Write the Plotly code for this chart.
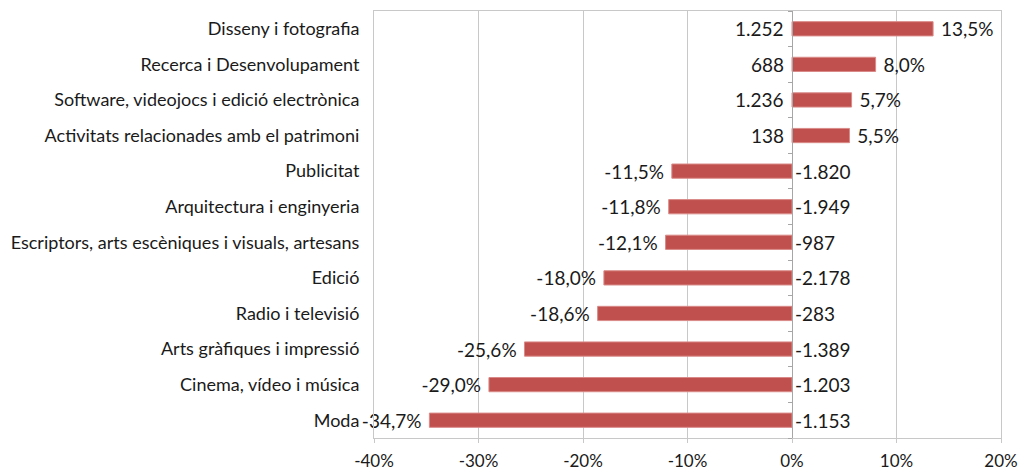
import plotly.graph_objects as go

categories = [
    "Disseny i fotografia",
    "Recerca i Desenvolupament",
    "Software, videojocs i edició electrònica",
    "Activitats relacionades amb el patrimoni",
    "Publicitat",
    "Arquitectura i enginyeria",
    "Escriptors, arts escèniques i visuals, artesans",
    "Edició",
    "Radio i televisió",
    "Arts gràfiques i impressió",
    "Cinema, vídeo i música",
    "Moda",
]
pct_change = [13.5, 8.0, 5.7, 5.5, -11.5, -11.8, -12.1, -18.0, -18.6, -25.6, -29.0, -34.7]
abs_change = [1252, 688, 1236, 138, -1820, -1949, -987, -2178, -283, -1389, -1203, -1153]
x_ticks = [-40, -30, -20, -10, 0, 10, 20]
x_ticktext = ["-40%", "-30%", "-20%", "-10%", "0%", "10%", "20%"]

FONT = "Lato, 'Open Sans', sans-serif"
BAR = "#C0504D"
GRID = "#C8C8C8"
TXT = "#1a1a1a"


def fmt_pct(v):
    s = ("%.1f%%" % v).replace(".", ",")
    # a little gap between the bar end and its label
    return " " + s if v >= 0 else s + " "


def fmt_int(v):
    return "{:,}".format(v).replace(",", ".")


fig = go.Figure()
fig.add_trace(go.Bar(
    y=categories, x=pct_change, orientation="h",
    marker=dict(color=BAR, line=dict(color="#D98A88", width=1)),
    width=0.4,
    text=[fmt_pct(v) for v in pct_change],
    textposition="outside", constraintext="none", cliponaxis=False,
    textfont=dict(family=FONT, size=19, color=TXT),
    hoverinfo="skip", showlegend=False,
))
# invisible trace that carries the y axis drawn at 0%
fig.add_trace(go.Scatter(
    y=categories, x=[None] * len(categories), yaxis="y2",
    mode="markers", showlegend=False, hoverinfo="skip",
))

for cat, pct, ab in zip(categories, pct_change, abs_change):
    if pct >= 0:
        fig.add_annotation(x=0, y=cat, text=fmt_int(ab), showarrow=False,
                           xanchor="right", xshift=-6,
                           font=dict(family=FONT, size=19, color=TXT))
    else:
        fig.add_annotation(x=0, y=cat, text=fmt_int(ab), showarrow=False,
                           xanchor="left", xshift=1,
                           font=dict(family=FONT, size=19, color=TXT))

n = len(categories)
fig.update_layout(
    width=1018, height=471,
    margin=dict(l=374, r=17, t=11, b=33, autoexpand=False),
    plot_bgcolor="white", paper_bgcolor="white",
    font=dict(family=FONT, size=18, color=TXT),
    xaxis=dict(
        range=[-40, 20], tickvals=x_ticks, ticktext=x_ticktext,
        showgrid=True, gridcolor=GRID, gridwidth=1, zeroline=False,
        showline=True, linecolor=GRID, mirror=True, automargin=False,
        ticks="outside", ticklen=4, tickcolor=GRID, ticklabelstandoff=4,
        tickfont=dict(family=FONT, size=17, color=TXT),
    ),
    yaxis=dict(
        categoryorder="array", categoryarray=categories[::-1],
        range=[-0.5, n - 0.5], automargin=False,
        showgrid=False, zeroline=False, showline=True, linecolor=GRID,
        mirror=True, ticks="", ticklabelstandoff=10,
        tickfont=dict(family=FONT, size=18, color=TXT),
    ),
    yaxis2=dict(
        overlaying="y", matches="y", anchor="free", position=2 / 3,
        automargin=False,
        showline=True, linecolor="#A6A6A6", ticks="outside", ticklen=4,
        tickcolor="#A6A6A6", tickson="boundaries", showticklabels=False,
        showgrid=False, zeroline=False,
    ),
)

# drop the default page margin so the figure sits at the window's corner
fig.write_html("out.html", config={"displayModeBar": False},
               post_script="document.body.style.margin='0px';")
